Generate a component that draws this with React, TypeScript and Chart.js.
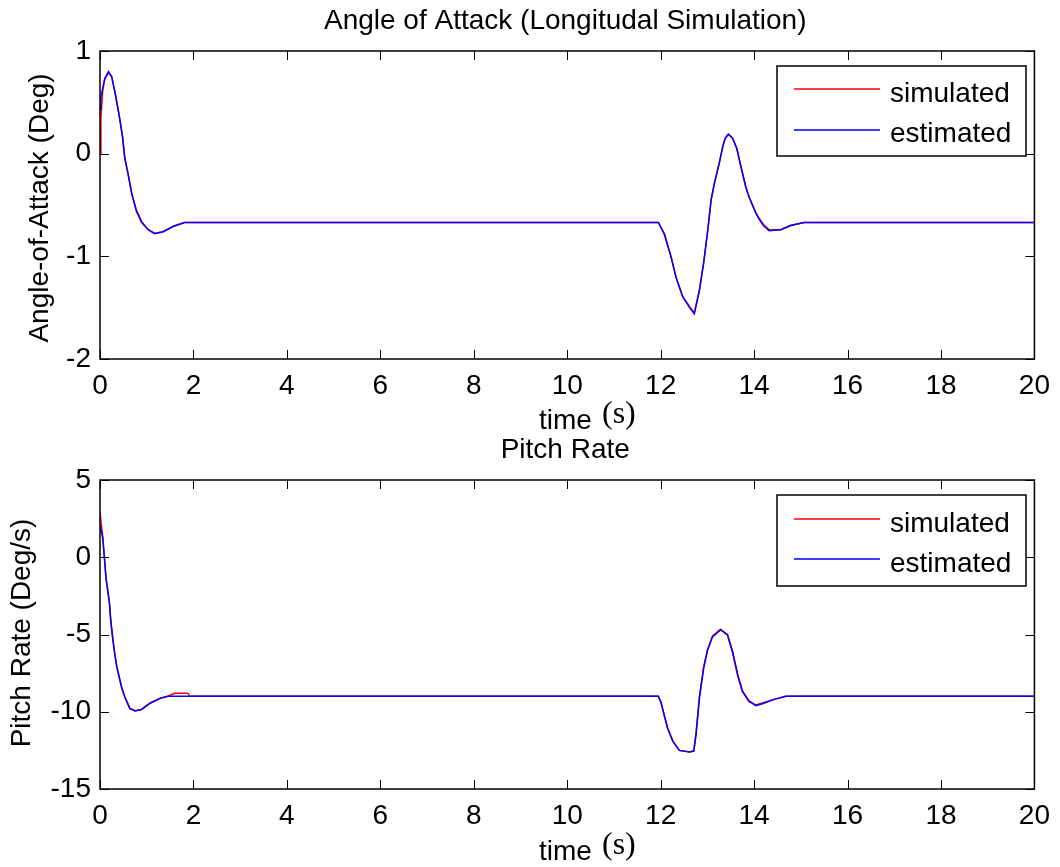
import React, { useEffect, useRef } from "react";
import { Chart, registerables } from "chart.js";

Chart.register(...registerables);

// ---------- data ----------
const xTicks = [0, 2, 4, 6, 8, 10, 12, 14, 16, 18, 20];
const alphaTicks = [1, 0, -1, -2];
const qTicks = [5, 0, -5, -10, -15];

const alphaTime = [
  0, 0.02, 0.06, 0.1, 0.18, 0.25, 0.32, 0.41, 0.48, 0.53, 0.6, 0.68, 0.78, 0.89, 1.03, 1.17, 1.35, 1.56, 1.81,
  11.95, 12.08, 12.22, 12.33, 12.47, 12.62, 12.72, 12.83, 12.92, 13.01, 13.08, 13.15, 13.26, 13.33, 13.38, 13.45,
  13.54, 13.63, 13.72, 13.82, 13.89, 13.97, 14.04, 14.11, 14.2, 14.32, 14.57, 14.78, 15.07, 20,
];
const alphaSimulated = [
  0, 0.35, 0.62, 0.72, 0.79, 0.75, 0.6, 0.38, 0.17, -0.04, -0.19, -0.39, -0.55, -0.66, -0.74, -0.775, -0.76, -0.71, -0.67,
  -0.67, -0.79, -1.0, -1.2, -1.39, -1.49, -1.55, -1.33, -1.07, -0.74, -0.45, -0.29, -0.08, 0.07, 0.15, 0.19,
  0.15, 0.05, -0.13, -0.32, -0.42, -0.5, -0.58, -0.63, -0.69, -0.74, -0.74, -0.7, -0.67, -0.67,
];
const alphaEstimated = [
  0.43, 0.55, 0.64, 0.73, 0.8, 0.75, 0.6, 0.37, 0.17, -0.04, -0.2, -0.39, -0.56, -0.67, -0.74, -0.78, -0.76, -0.71, -0.67,
  -0.67, -0.78, -1.0, -1.21, -1.39, -1.5, -1.56, -1.33, -1.06, -0.74, -0.45, -0.29, -0.08, 0.07, 0.15, 0.19,
  0.15, 0.05, -0.13, -0.32, -0.42, -0.51, -0.58, -0.64, -0.7, -0.75, -0.74, -0.7, -0.67, -0.67,
];

const qTime = [
  0, 0.06, 0.09, 0.13, 0.2, 0.23, 0.27, 0.31, 0.36, 0.41, 0.46, 0.53, 0.64, 0.75, 0.89, 1.07, 1.28, 1.46, 1.6, 1.88,
  1.92, 11.95, 12.01, 12.08, 12.15, 12.26, 12.4, 12.62, 12.71, 12.76, 12.83, 12.92, 13.0, 13.11, 13.28, 13.43, 13.54,
  13.65, 13.75, 13.89, 14.04, 14.21, 14.43, 14.68, 20,
];
const qSimulated = [
  2.9, 1.33, 0.15, -1.36, -2.87, -4.06, -5.14, -6.11, -7.08, -7.73, -8.38, -9.03, -9.78, -9.93, -9.85, -9.45, -9.13,
  -8.98, -8.8, -8.8, -9.0, -9.0, -9.45, -10.3, -11.1, -11.9, -12.5, -12.6, -12.5, -11.3, -9.0, -7.1, -6.0, -5.1,
  -4.66, -5.03, -6.2, -7.7, -8.7, -9.35, -9.56, -9.4, -9.2, -9.0, -9.0,
];
const qEstimated = [
  2.1, 1.2, 0.1, -1.4, -2.9, -4.1, -5.2, -6.15, -7.1, -7.75, -8.4, -9.05, -9.8, -9.95, -9.85, -9.45, -9.15,
  -9.0, -9.0, -9.0, -9.0, -9.0, -9.4, -10.25, -11.05, -11.9, -12.5, -12.6, -12.55, -11.4, -9.1, -7.2, -6.05, -5.15,
  -4.7, -5.0, -6.1, -7.6, -8.65, -9.3, -9.6, -9.45, -9.2, -9.0, -9.0,
];

// ---------- chart helpers ----------
const SANS = "'Liberation Sans', Arial, Helvetica, sans-serif";
const SERIF = "'Liberation Serif', 'Times New Roman', serif";
const FS = 28;

type PanelCfg = {
  height: number;
  areaTop: number;
  areaBottom: number;
  yMin: number;
  yMax: number;
  yTicks: number[];
  title: string;
  titleBaseline: number;
  ylabel: string;
  ylabelBaseX: number;
  ylabelCenterY: number;
  xlabelBaseline: number;
  legendTop: number;
  legendBottom: number;
  legendLineY: [number, number];
  legendTextY: [number, number];
  time: number[];
  simulated: number[];
  estimated: number[];
};

function toPoints(t: number[], v: number[]) {
  return t.map((x, i) => ({ x, y: v[i] }));
}

function makePlugin(cfg: PanelCfg) {
  return {
    id: "matlabFrame",
    afterDraw(chart: any) {
      const { ctx, chartArea: a, scales } = chart;
      const xs = scales.x;
      const ys = scales.y;
      ctx.save();
      // ticks
      ctx.strokeStyle = "#000";
      ctx.lineWidth = 1;
      const tl = 9;
      ctx.beginPath();
      xTicks.forEach((v) => {
        const px = Math.round(xs.getPixelForValue(v)) + 0.5;
        ctx.moveTo(px, a.bottom);
        ctx.lineTo(px, a.bottom - tl);
        ctx.moveTo(px, a.top);
        ctx.lineTo(px, a.top + tl);
      });
      cfg.yTicks.forEach((v) => {
        const py = Math.round(ys.getPixelForValue(v)) + 0.5;
        ctx.moveTo(a.left, py);
        ctx.lineTo(a.left + tl, py);
        ctx.moveTo(a.right, py);
        ctx.lineTo(a.right - tl, py);
      });
      ctx.stroke();
      // frame
      ctx.lineWidth = 1.5;
      ctx.strokeRect(a.left, a.top, a.right - a.left, a.bottom - a.top);

      // legend
      const lx0 = 777, lx1 = 1026;
      ctx.fillStyle = "#fff";
      ctx.fillRect(lx0, cfg.legendTop, lx1 - lx0, cfg.legendBottom - cfg.legendTop);
      ctx.lineWidth = 1.5;
      ctx.strokeStyle = "#000";
      ctx.strokeRect(lx0, cfg.legendTop, lx1 - lx0, cfg.legendBottom - cfg.legendTop);
      const items: [string, string][] = [
        ["simulated", "#ff0000"],
        ["estimated", "#0000ff"],
      ];
      ctx.font = `${FS}px ${SANS}`;
      ctx.textBaseline = "alphabetic";
      ctx.textAlign = "left";
      items.forEach(([label, color], i) => {
        ctx.beginPath();
        ctx.strokeStyle = color;
        ctx.lineWidth = 1.5;
        ctx.moveTo(794, cfg.legendLineY[i]);
        ctx.lineTo(880, cfg.legendLineY[i]);
        ctx.stroke();
        ctx.fillStyle = "#000";
        ctx.fillText(label, 890, cfg.legendTextY[i]);
      });

      // title
      ctx.fillStyle = "#000";
      ctx.font = `${FS}px ${SANS}`;
      ctx.textAlign = "center";
      ctx.fillText(cfg.title, (a.left + a.right) / 2 - 2, cfg.titleBaseline);

      // x label
      ctx.textAlign = "left";
      ctx.font = `${FS}px ${SANS}`;
      ctx.fillText("time", 539, cfg.xlabelBaseline);
      ctx.font = `32px ${SERIF}`;
      ctx.fillText("(s)", 602, cfg.xlabelBaseline - 6);

      // y label
      ctx.save();
      ctx.translate(cfg.ylabelBaseX, cfg.ylabelCenterY);
      ctx.rotate(-Math.PI / 2);
      ctx.font = `${FS}px ${SANS}`;
      ctx.textAlign = "center";
      ctx.fillText(cfg.ylabel, 0, 0);
      ctx.restore();

      ctx.restore();
    },
  };
}

function Panel({ cfg, top }: { cfg: PanelCfg; top: number }) {
  const ref = useRef<HTMLCanvasElement | null>(null);
  useEffect(() => {
    if (!ref.current) return;
    const chart = new Chart(ref.current, {
      type: "line",
      data: {
        datasets: [
          {
            label: "simulated",
            data: toPoints(cfg.time, cfg.simulated),
            borderColor: "#ff0000",
            borderWidth: 1.5,
            pointRadius: 0,
            tension: 0,
            fill: false,
            order: 2,
          },
          {
            label: "estimated",
            data: toPoints(cfg.time, cfg.estimated),
            borderColor: "#0000ff",
            borderWidth: 1.5,
            pointRadius: 0,
            tension: 0,
            fill: false,
            order: 1,
          },
        ],
      },
      options: {
        responsive: false,
        animation: false,
        devicePixelRatio: 1,
        layout: { padding: { top: cfg.areaTop, right: 22, left: 0, bottom: 0 } },
        plugins: {
          legend: { display: false },
          title: { display: false },
          tooltip: { enabled: false },
        },
        scales: {
          x: {
            type: "linear",
            min: 0,
            max: 20,
            grid: { display: false, drawTicks: false },
            border: { display: false },
            afterBuildTicks: (s: any) => {
              s.ticks = xTicks.map((v) => ({ value: v }));
            },
            afterFit: (s: any) => {
              s.height = cfg.height - cfg.areaBottom;
            },
            ticks: {
              color: "#000",
              font: { family: SANS, size: FS },
              padding: 10,
              maxRotation: 0,
              autoSkip: false,
            },
          },
          y: {
            type: "linear",
            min: cfg.yMin,
            max: cfg.yMax,
            grid: { display: false, drawTicks: false },
            border: { display: false },
            afterBuildTicks: (s: any) => {
              s.ticks = cfg.yTicks.map((v) => ({ value: v }));
            },
            afterFit: (s: any) => {
              s.width = 100;
            },
            ticks: {
              color: "#000",
              font: { family: SANS, size: FS },
              padding: 9,
              autoSkip: false,
            },
          },
        },
      },
      plugins: [makePlugin(cfg)],
    } as any);
    return () => chart.destroy();
  }, [cfg]);
  return (
    <canvas
      ref={ref}
      width={1060}
      height={cfg.height}
      style={{ position: "absolute", left: 0, top, width: 1060, height: cfg.height, display: "block" }}
    />
  );
}

const topCfg: PanelCfg = {
  height: 432,
  areaTop: 51,
  areaBottom: 359,
  yMin: -2,
  yMax: 1,
  yTicks: alphaTicks,
  title: "Angle of Attack (Longitudal Simulation)",
  titleBaseline: 29,
  ylabel: "Angle-of-Attack (Deg)",
  ylabelBaseX: 48,
  ylabelCenterY: 208,
  xlabelBaseline: 429,
  legendTop: 66,
  legendBottom: 156,
  legendLineY: [89, 130],
  legendTextY: [102, 142],
  time: alphaTime,
  simulated: alphaSimulated,
  estimated: alphaEstimated,
};

const bottomCfg: PanelCfg = {
  height: 435,
  areaTop: 48,
  areaBottom: 357,
  yMin: -15,
  yMax: 5,
  yTicks: qTicks,
  title: "Pitch Rate",
  titleBaseline: 26,
  ylabel: "Pitch Rate (Deg/s)",
  ylabelBaseX: 30,
  ylabelCenterY: 201,
  xlabelBaseline: 428,
  legendTop: 63,
  legendBottom: 154,
  legendLineY: [87, 127],
  legendTextY: [100, 140],
  time: qTime,
  simulated: qSimulated,
  estimated: qEstimated,
};

export default function App() {
  return (
    <div style={{ position: "absolute", left: 0, top: 0, width: 1060, height: 867, background: "#fff" }}>
      <Panel cfg={topCfg} top={0} />
      <Panel cfg={bottomCfg} top={432} />
    </div>
  );
}
